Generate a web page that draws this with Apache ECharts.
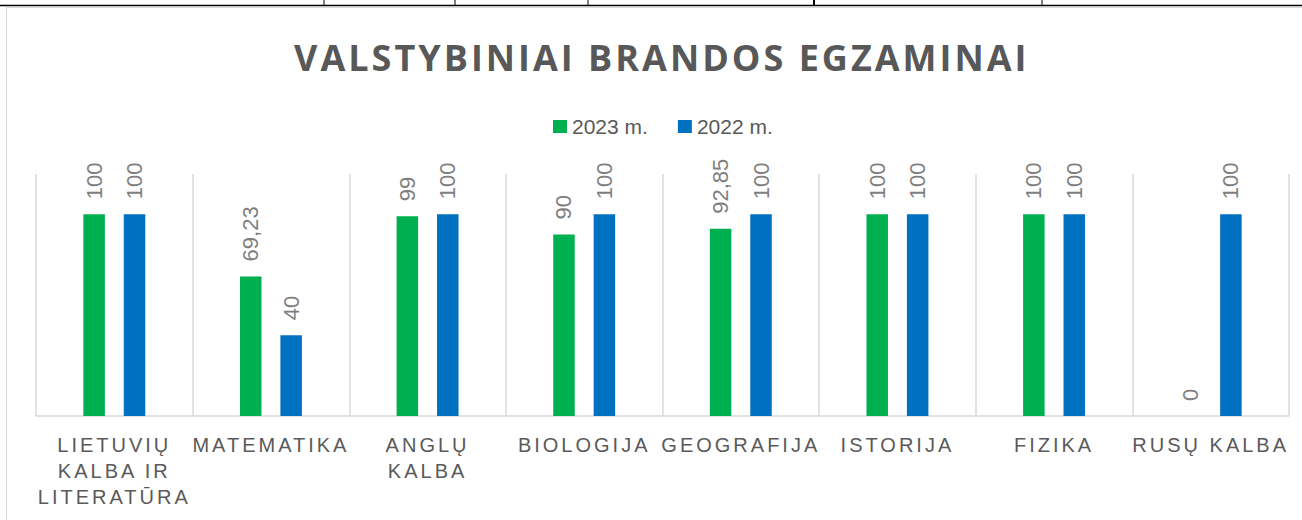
<!DOCTYPE html>
<html>
<head>
<meta charset="utf-8">
<script src="https://cdn.jsdelivr.net/npm/echarts@6/dist/echarts.min.js"></script>
<style>
    html, body { margin: 0; padding: 0; background: #fff; }
    #chart { width: 1302px; height: 520px; }
    /* Excel-like spaced caps: picked out by their fill colour */
    #chart text[fill="#5a5a5a"] { letter-spacing: 3px; }
    #chart text[fill="#585858"] { letter-spacing: 3px; }
</style>
</head>
<body>
<div id="chart"></div>
<script>
    var categories = [
        'LIETUVIŲ\nKALBA IR\nLITERATŪRA', 'MATEMATIKA', 'ANGLŲ\nKALBA', 'BIOLOGIJA',
        'GEOGRAFIJA', 'ISTORIJA', 'FIZIKA', 'RUSŲ KALBA'
    ];
    var values2023 = [100, 69.23, 99, 90, 92.85, 100, 100, 0];
    var values2022 = [100, 40, 100, 100, 100, 100, 100, 100];
    var seriesNames = ['2023 m.', '2022 m.'];

    var myChart = echarts.init(document.getElementById('chart'), null, {renderer: 'svg'});

    function barLabel() {
        return {
            show: true,
            position: 'top',
            rotate: 90,
            align: 'left',
            verticalAlign: 'middle',
            distance: 15,
            color: '#7f7f7f',
            fontFamily: 'Liberation Sans',
            fontSize: 22,
            formatter: function (p) {
                return String(p.value).replace('.', ',');
            }
        };
    }

    // table row above the chart and the chart frame
    var tableCols = [324, 455, 588, 814, 1042];
    var graphics = [
        {type: 'rect', shape: {x: 6.5, y: 7.5, width: 1400, height: 600}, style: {fill: 'none', stroke: '#d9d9d9', lineWidth: 1}},
        {type: 'line', shape: {x1: 0, y1: 5.5, x2: 1302, y2: 5.5}, style: {stroke: '#000', lineWidth: 1.5}}
    ];
    tableCols.map(function (x, i) {
        graphics.push({type: 'line', shape: {x1: x, y1: 0, x2: x, y2: 5}, style: {stroke: '#000', lineWidth: i === 3 ? 2 : 1}});
    });

    var option = {
        animation: false,
        title: {
            text: 'VALSTYBINIAI BRANDOS EGZAMINAI',
            left: 289,
            top: 34,
            textStyle: {
                color: '#585858',
                fontFamily: 'Open Sans',
                fontWeight: 'bold',
                fontSize: 36
            }
        },
        legend: {
            data: seriesNames,
            top: 111,
            left: 548,
            icon: 'rect',
            itemWidth: 14,
            itemHeight: 13,
            itemGap: 30,
            textStyle: {color: '#595959', fontFamily: 'Liberation Sans', fontSize: 21}
        },
        grid: {left: 36, right: 13, top: 174, bottom: 104},
        xAxis: {
            type: 'category',
            data: categories,
            axisLine: {lineStyle: {color: '#d9d9d9', width: 1.5}},
            axisTick: {show: false},
            splitLine: {show: true, lineStyle: {color: '#d9d9d9', width: 1.5}},
            axisLabel: {
                interval: 0,
                margin: 16,
                color: '#5a5a5a',
                fontFamily: 'Liberation Sans',
                fontSize: 20,
                lineHeight: 26
            }
        },
        yAxis: {
            type: 'value',
            min: 0,
            max: 120,
            show: false,
            splitLine: {show: false}
        },
        series: [
            {
                name: seriesNames[0],
                type: 'bar',
                data: values2023,
                barWidth: 21.5,
                barGap: '88%',
                itemStyle: {color: '#00b050'},
                label: barLabel()
            },
            {
                name: seriesNames[1],
                type: 'bar',
                data: values2022,
                barWidth: 21.5,
                itemStyle: {color: '#0070c0'},
                label: barLabel()
            }
        ],
        graphic: graphics
    };

    myChart.setOption(option);
</script>
</body>
</html>
